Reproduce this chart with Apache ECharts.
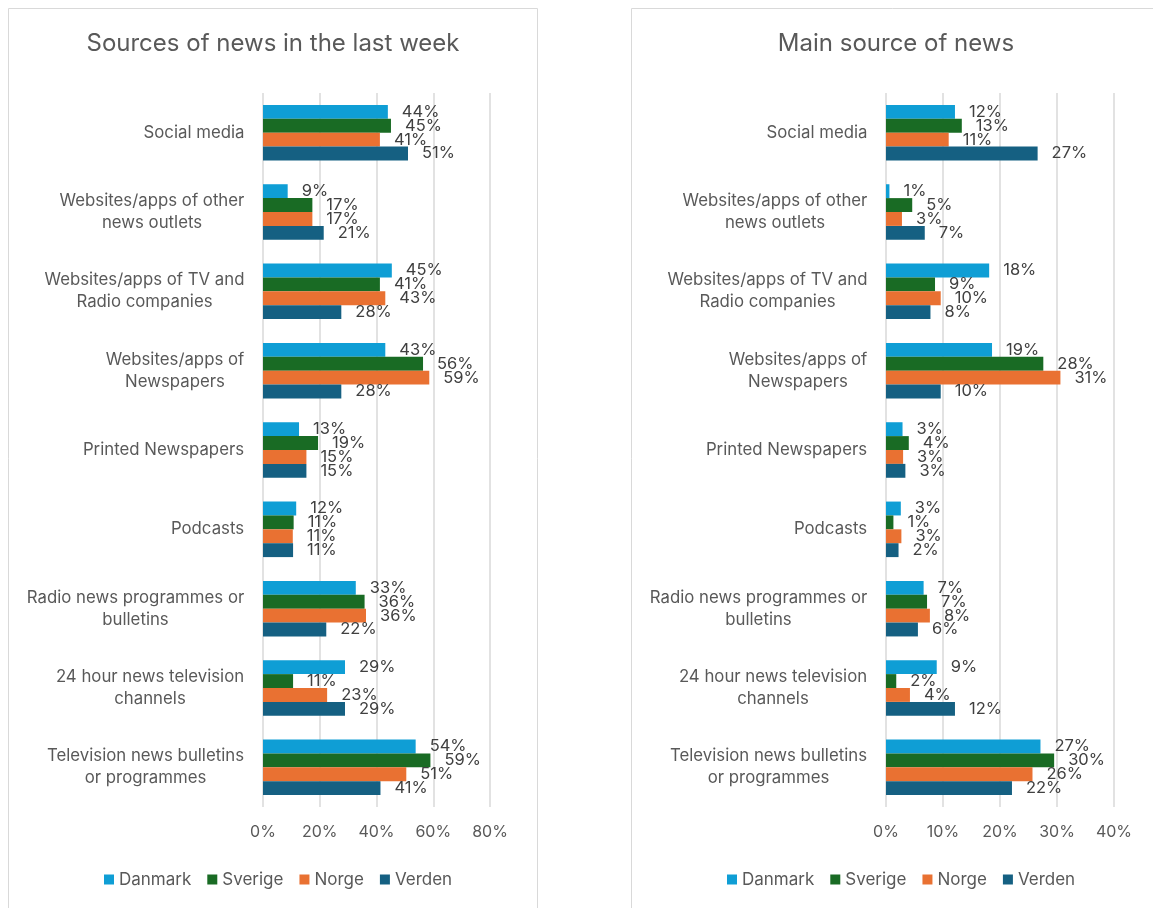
<!DOCTYPE html>
<html>
<head>
<meta charset="utf-8">
<script src="https://cdn.jsdelivr.net/npm/echarts@6/dist/echarts.min.js"></script>
<style>
html,body{margin:0;padding:0;background:#fff;}
#chart{width:1153px;height:908px;}
</style>
</head>
<body>
<div id="chart"></div>
<script>
// ---- data ----
const categories = [
  "Social media",
  "Websites/apps of other\nnews outlets",
  "Websites/apps of TV and\nRadio companies",
  "Websites/apps of\nNewspapers",
  "Printed Newspapers",
  "Podcasts",
  "Radio news programmes or\nbulletins",
  "24 hour news television\nchannels",
  "Television news bulletins\nor programmes"
];
const seriesNames = ["Danmark", "Sverige", "Norge", "Verden"];
const colors = ["#0F9ED5", "#196B24", "#E97132", "#156082"];

// Sources of news in the last week (%)
const weekDanmark = [44.0, 8.7, 45.4, 43.1, 12.7, 11.7, 32.7, 28.9, 53.8];
const weekSverige = [45.1, 17.4, 41.2, 56.4, 19.4, 10.8, 35.8, 10.6, 59.0];
const weekNorge   = [41.2, 17.4, 43.1, 58.6, 15.3, 10.5, 36.3, 22.6, 50.5];
const weekVerden  = [51.1, 21.4, 27.6, 27.6, 15.3, 10.6, 22.3, 28.9, 41.4];

// Main source of news (%)
const mainDanmark = [12.1, 0.6, 18.1, 18.6, 2.9, 2.6, 6.6, 8.9, 27.1];
const mainSverige = [13.3, 4.6, 8.6, 27.6, 4.0, 1.3, 7.2, 1.8, 29.5];
const mainNorge   = [11.0, 2.8, 9.6, 30.6, 3.0, 2.7, 7.7, 4.2, 25.7];
const mainVerden  = [26.6, 6.8, 7.8, 9.6, 3.4, 2.2, 5.6, 12.1, 22.1];

const leftTicksMax = 80, leftInterval = 20;
const rightTicksMax = 40, rightInterval = 10;

// ---- build ----
const FONT = "Inter, 'Liberation Sans', sans-serif";
const CAT_SIZE = 16.8;
const chart = echarts.init(document.getElementById('chart'));

// measure lines to center multi-line labels within a right-aligned block
const cv = document.createElement('canvas').getContext('2d');
cv.font = CAT_SIZE + "px " + FONT;
const rich = {};
categories.forEach((c, i) => {
  const w = Math.max(...c.split('\n').map(l => cv.measureText(l).width));
  rich['c' + i] = { width: Math.ceil(w) + 1, align: 'center', fontSize: CAT_SIZE, color: '#595959', fontFamily: FONT, lineHeight: 22 };
});
function catFormatter(value) {
  const i = categories.indexOf(value);
  return value.split('\n').map(l => '{c' + i + '|' + l + '}').join('\n');
}

function makeBars(dataArr, axisIdx) {
  return dataArr.map((d, k) => ({
    name: seriesNames[k],
    type: 'bar',
    xAxisIndex: axisIdx,
    yAxisIndex: axisIdx,
    data: d,
    barGap: '0%',
    barCategoryGap: '30%',
    itemStyle: { color: colors[k] },
    label: {
      show: true,
      position: 'right',
      distance: 14,
      fontSize: 16.5,
      fontFamily: FONT,
      color: '#404040',
      formatter: p => Math.round(p.value) + '%'
    },
    emphasis: { disabled: true }
  }));
}

function xAxis(gridIndex, max, interval) {
  return {
    type: 'value', gridIndex, min: 0, max, interval,
    axisLine: { show: false }, axisTick: { show: false },
    splitLine: { show: true, lineStyle: { color: '#D9D9D9', width: 1.5 } },
    axisLabel: { formatter: '{value}%', fontSize: 16, color: '#595959', fontFamily: FONT, margin: 17 }
  };
}
function yAxis(gridIndex) {
  return {
    type: 'category', gridIndex, data: categories, inverse: true,
    axisLine: { show: false }, axisTick: { show: false },
    axisLabel: { formatter: catFormatter, rich, margin: 18, fontFamily: FONT, interval: 0 }
  };
}

const legendCommon = {
  data: seriesNames, icon: 'rect', itemWidth: 10, itemHeight: 10, itemGap: 16,
  textStyle: { fontSize: 17, color: '#595959', fontFamily: FONT }, top: 866
};

chart.setOption({
  animation: false,
  graphic: [
    { type: 'rect', shape: { x: 8.5, y: 8.5, width: 529, height: 920 }, style: { fill: 'none', stroke: '#D9D9D9', lineWidth: 1 }, silent: true },
    { type: 'rect', shape: { x: 631.5, y: 8.5, width: 540, height: 920 }, style: { fill: 'none', stroke: '#D9D9D9', lineWidth: 1 }, silent: true },
    { type: 'text', x: 273, y: 44, style: { text: 'Sources of news in the last week', fontSize: 24, fill: '#595959', fontFamily: FONT, textAlign: 'center', textVerticalAlign: 'middle' }, silent: true },
    { type: 'text', x: 896, y: 44, style: { text: 'Main source of news', fontSize: 24, fill: '#595959', fontFamily: FONT, textAlign: 'center', textVerticalAlign: 'middle' }, silent: true }
  ],
  legend: [
    Object.assign({ left: 99 }, legendCommon),
    Object.assign({ left: 722 }, legendCommon)
  ],
  grid: [
    { left: 263, width: 227, top: 93, height: 714 },
    { left: 886, width: 228, top: 93, height: 714 }
  ],
  xAxis: [xAxis(0, leftTicksMax, leftInterval), xAxis(1, rightTicksMax, rightInterval)],
  yAxis: [yAxis(0), yAxis(1)],
  series: [
    ...makeBars([weekDanmark, weekSverige, weekNorge, weekVerden], 0),
    ...makeBars([mainDanmark, mainSverige, mainNorge, mainVerden], 1)
  ]
});
</script>
</body>
</html>
